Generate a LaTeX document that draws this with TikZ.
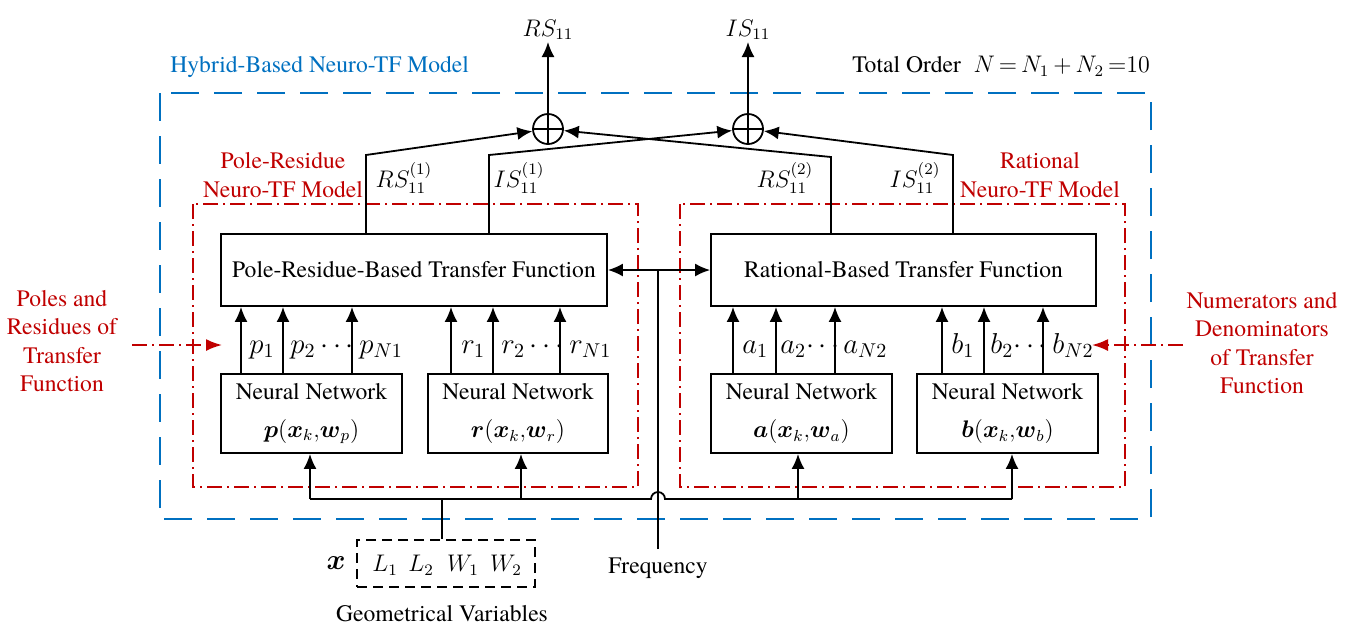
\documentclass[tikz,border=0pt]{standalone}
\usepackage{amsmath}
\usepackage{fontspec}
\setmainfont{TeX Gyre Termes}
\usetikzlibrary{arrows.meta,calc}
\definecolor{myred}{RGB}{192,0,0}
\definecolor{myblue}{RGB}{0,112,192}
\newcommand{\txtfont}{\fontsize{11.8}{14}\selectfont}
\newcommand{\parfont}{\fontsize{14.4}{16}\selectfont}
\tikzset{
  line/.style={line width=0.9pt},
  arr/.style={line width=0.9pt,-{Latex[length=7.5pt,width=6.5pt]}},
  arrboth/.style={line width=0.9pt,{Latex[length=7.5pt,width=6.5pt]}-{Latex[length=7.5pt,width=6.5pt]}},
  tfbox/.style={draw,line width=0.9pt,minimum height=36pt,inner sep=0pt},
  nnbox/.style={draw,line width=0.9pt,minimum width=90.5pt,minimum height=39.5pt,inner sep=0pt,align=center,font=\fontsize{11.8}{19}\selectfont},
  sumc/.style={circle,draw,line width=0.9pt,minimum size=15pt,inner sep=0pt,
    path picture={\draw[line width=1.1pt] (path picture bounding box.north) -- (path picture bounding box.south)
      (path picture bounding box.west) -- (path picture bounding box.east);}},
  redframe/.style={draw=myred,line width=0.9pt,dash pattern=on 7.5pt off 2.5pt on 1pt off 2.5pt},
  blueframe/.style={draw=myblue,line width=1pt,dash pattern=on 14pt off 7.5pt},
  redarr/.style={draw=myred,line width=0.9pt,dash pattern=on 7.5pt off 2.5pt on 1pt off 2.5pt,
    -{Latex[length=8pt,width=6pt,fill=myred,color=myred]}},
  redtext/.style={text=myred,align=center,font=\fontsize{11.8}{14.25}\selectfont},
  partxt/.style={anchor=base west,inner sep=0pt,font=\parfont},
  geobox/.style={draw,line width=0.9pt,dash pattern=on 5pt off 3pt,minimum width=89pt,minimum height=23.5pt,inner sep=0pt},
}
\newcommand{\nnf}[2]{{\fontsize{12}{19}\selectfont$\boldsymbol{#1}(\boldsymbol{x}_k{,}\boldsymbol{w}_{#2})$}}
\begin{document}
\begin{tikzpicture}[x=0.5pt,y=-0.5pt,font=\txtfont]
\useasboundingbox (0,0) rectangle (1352,629);

% frames
\draw[blueframe] (160,93) rectangle (1151,519);
\draw[redframe] (193,204) rectangle (638,487);
\draw[redframe] (680,204) rectangle (1125,487);

% titles
\node[anchor=west,text=myblue,inner sep=0pt] (hyb) at (170,67) {Hybrid-Based Neuro-TF Model};
\node[anchor=west,inner sep=0pt] (tot) at (852,66) {Total Order\; $N\,{=}\,N_1\,{+}\,N_2\,{=}10$};
\node[redtext] (prlab) at (283,175) {Pole-Residue\\Neuro-TF Model};
\node[redtext] (ralab) at (1040,175) {Rational\\Neuro-TF Model};

% transfer function boxes
\node[tfbox,minimum width=193pt] (ptf) at (414,270) {Pole-Residue-Based Transfer Function};
\node[tfbox,minimum width=192.5pt] (rtf) at (903.5,270) {Rational-Based Transfer Function};

% neural networks
\node[nnbox] (nn1) at (311.5,413.5) {Neural Network\\\nnf{p}{p}};
\node[nnbox,minimum width=90pt] (nn2) at (518,413.5) {Neural Network\\\nnf{r}{r}};
\node[nnbox] (nn3) at (801.5,413.5) {Neural Network\\\nnf{a}{a}};
\node[nnbox] (nn4) at (1007.5,413.5) {Neural Network\\\nnf{b}{b}};

% parameter arrows
\foreach \xx in {241,283,352} {\coordinate (t) at (\xx,0); \draw[arr] (nn1.north -| t) -- (ptf.south -| t);}
\foreach \xx in {451,493,560} {\coordinate (t) at (\xx,0); \draw[arr] (nn2.north -| t) -- (ptf.south -| t);}
\foreach \xx in {733,776,835} {\coordinate (t) at (\xx,0); \draw[arr] (nn3.north -| t) -- (rtf.south -| t);}
\foreach \xx in {942,984,1043} {\coordinate (t) at (\xx,0); \draw[arr] (nn4.north -| t) -- (rtf.south -| t);}

% parameter labels
\node[partxt] (lp1) at (249,353) {$p_1$};
\node[partxt] (lp2) at (290,353) {$p_2\,{\cdots}$};
\node[partxt] (lp3) at (359,353) {$p_{N1}$};
\node[partxt] (lr1) at (461,353) {$r_1$};
\node[partxt] (lr2) at (501,353) {$r_2\,{\cdots}$};
\node[partxt] (lr3) at (569,353) {$r_{N1}$};
\node[partxt] (la1) at (742,353) {$a_1$};
\node[partxt] (la2) at (780,353) {$a_2{\cdots}$};
\node[partxt] (la3) at (843,353) {$a_{N2}$};
\node[partxt] (lb1) at (951,353) {$b_1$};
\node[partxt] (lb2) at (990,353) {$b_2{\cdots}$};
\node[partxt] (lb3) at (1052,353) {$b_{N2}$};

% summing junctions and outputs
\node[sumc] (s1) at (548,129) {};
\node[sumc] (s2) at (748,129) {};
\node[anchor=south,inner sep=1pt] (o1) at (548,42) {$RS_{11}$};
\node[anchor=south,inner sep=1pt] (o2) at (748,42) {$IS_{11}$};
\draw[arr] (s1) -- (o1);
\draw[arr] (s2) -- (o2);

\coordinate (k1) at (366,155);
\coordinate (k2) at (489,155);
\coordinate (k3) at (831,157);
\coordinate (k4) at (953,155);
\draw[arr] (ptf.north -| k1) -- (k1) -- (s1);
\draw[arr] (ptf.north -| k2) -- (k2) -- (s2);
\draw[arr] (rtf.north -| k3) -- (k3) -- (s1);
\draw[arr] (rtf.north -| k4) -- (k4) -- (s2);

\node (lrs1) at (404,178) {$RS_{11}^{(1)}$};
\node (lis1) at (519,178) {$IS_{11}^{(1)}$};
\node (lrs2) at (785,178) {$RS_{11}^{(2)}$};
\node (lis2) at (915,178) {$IS_{11}^{(2)}$};

% frequency
\draw[arrboth] (ptf) -- (rtf);
\coordinate (fj) at (658,270);
\node[anchor=north,inner sep=1pt] (freq) at (658,555) {Frequency};
\draw[line] (freq.north) ++(0,-6) -- (fj);

% geometrical variables
\node[geobox] (geo) at (446,563.5) {};
\node[inner sep=0pt] (l1) at (385,565) {$L_1$};
\node[inner sep=0pt] (l2) at (421,565) {$L_2$};
\node[inner sep=0pt] (w1) at (463,565) {$W_1$};
\node[inner sep=0pt] (w2) at (506,565) {$W_2$};
\node[inner sep=0pt,font=\fontsize{14.4}{16}\selectfont] (xv) at (336,563) {$\boldsymbol{x}$};
\node (geolab) at (442,614) {Geometrical Variables};

% input bus
\coordinate (bl) at (310,499);
\coordinate (bm) at (442,499);
\coordinate (b2) at (521,499);
\coordinate (b3) at (798,499);
\coordinate (br) at (1012,499);
\draw[line] (bl) -- ($(fj |- bl)+(-7,0)$) arc[start angle=180,end angle=0,radius=3.5pt] -- (br);
\draw[arr] (bl) -- (bl |- nn1.south);
\draw[arr] (b2) -- (b2 |- nn2.south);
\draw[arr] (b3) -- (b3 |- nn3.south);
\draw[arr] (br) -- (br |- nn4.south);
\draw[line] (bm) -- (bm |- geo.north);

% side annotations
\node[redtext] (poles) at (62,341) {Poles and\\Residues of\\Transfer\\Function};
\node[redtext] (nums) at (1262,343) {Numerators and\\Denominators\\of Transfer\\Function};
\coordinate (pa) at (132,345);
\coordinate (pt) at (222,345);
\coordinate (na) at (1183,345);
\coordinate (nt) at (1092,345);
\draw[redarr] (pa) -- (pt);
\draw[redarr] (na) -- (nt);
\end{tikzpicture}
\end{document}
